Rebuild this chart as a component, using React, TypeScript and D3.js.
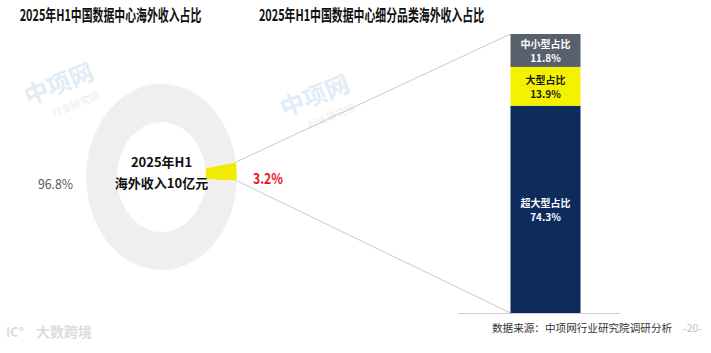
import React from 'react';
import * as d3 from 'd3';

// donut: share of overseas revenue
const donutValues = [3.2, 96.8];
const donutColors = ['#f2ea00', '#efefef'];
const donutLabels = ['3.2%', '96.8%'];

// stacked bar: breakdown by data-center size (bottom to top)
const barCategories = ['超大型占比', '大型占比', '中小型占比'];
const barValues = [74.3, 13.9, 11.8];
const barColors = ['#0d2b5c', '#f5f200', '#59606d'];
const barTextColors = ['#ffffff', '#1a1a1a', '#ffffff'];

const titleLeft = '2025年H1中国数据中心海外收入占比';
const titleRight = '2025年H1中国数据中心细分品类海外收入占比';
const centerLines = ['2025年H1', '海外收入10亿元'];
const sourceText = '数据来源：中项网行业研究院调研分析';
const watermarks = [
  [62, 92],
  [318, 104],
];

const FONT = '"Noto Sans CJK SC", "Noto Sans", sans-serif';

const App: React.FC = () => {
  const W = 711;
  const H = 353;

  // donut geometry (picture is squeezed horizontally)
  const cx = 161.5;
  const cy = 177;
  const sx = 0.81;
  const rOuter = 93;
  const rInner = 55;
  const start = (80.8 * Math.PI) / 180;

  const pie = d3
    .pie<number>()
    .sort(null)
    .startAngle(start)
    .endAngle(start + 2 * Math.PI);
  const arcs = pie(donutValues);
  const arc = d3.arc<d3.PieArcDatum<number>>().innerRadius(rInner).outerRadius(rOuter);

  const small = arcs[0];
  const pt = (a: number, r: number) => [cx + sx * r * Math.sin(a), cy - r * Math.cos(a)];
  const [tx, ty] = pt(small.startAngle, rOuter);
  const [bx, by] = pt(small.endAngle, rOuter);

  // stacked bar
  const barX = 510.5;
  const barW = 70;
  const y = d3.scaleLinear().domain([0, 100]).range([313, 34]);
  let acc = 0;
  const segs = barValues.map((v, i) => {
    const s = { key: barCategories[i], v, y0: acc, y1: acc + v, i };
    acc += v;
    return s;
  });

  return (
    <svg width={W} height={H} style={{ position: 'absolute', left: 0, top: 0, background: '#fff' }}>
      <rect width={W} height={H} fill="#ffffff" />

      {/* watermarks */}
      {watermarks.map(([wx, wy], i) => (
        <text key={i} x={wx} y={wy} transform={`rotate(-22 ${wx} ${wy})`} textAnchor="middle" fontFamily={FONT} opacity={0.35}>
          <tspan fontSize={24} fontWeight={700} fill="#a9cbea">中项网</tspan>
          <tspan x={wx + 8} dy={20} fontSize={10} fill="#c8c8c8">行业研究院</tspan>
        </text>
      ))}

      {/* titles (squeezed like the source image) */}
      <g fontFamily={FONT} fontWeight={700} fill="#111" fontSize={16}>
        <text transform="translate(110.5,21) scale(0.68,1)" textAnchor="middle">{titleLeft}</text>
        <text transform="translate(371.5,21) scale(0.68,1)" textAnchor="middle">{titleRight}</text>
      </g>

      {/* connector lines */}
      <line x1={tx} y1={ty} x2={barX} y2={y(100)} stroke="#c8c8c8" strokeWidth={1} />
      <line x1={bx} y1={by} x2={barX} y2={y(0)} stroke="#c8c8c8" strokeWidth={1} />

      {/* donut */}
      <g transform={`translate(${cx},${cy}) scale(${sx},1)`}>
        {arcs.map((a, i) => (
          <path key={i} d={arc(a) || ''} fill={donutColors[i]} />
        ))}
      </g>
      <text x={cx} y={167} fontFamily={FONT} textAnchor="middle" fontWeight={700} fill="#111" fontSize={13}>
        <tspan x={cx}>{centerLines[0]}</tspan>
        <tspan x={cx} dy={21}>{centerLines[1]}</tspan>
      </text>
      <text x={268} y={177} fontFamily={FONT} fontWeight={700} fontSize={14.5} fill="#e8141b" textAnchor="middle" dominantBaseline="central" textLength={30} lengthAdjust="spacingAndGlyphs">
        {donutLabels[0]}
      </text>
      <text x={55.5} y={183} fontFamily={FONT} fontSize={13} fill="#595959" textAnchor="middle" dominantBaseline="central" textLength={35} lengthAdjust="spacingAndGlyphs">
        {donutLabels[1]}
      </text>

      {/* stacked bar */}
      {segs.map((s) => (
        <rect key={s.key} x={barX} width={barW} y={y(s.y1)} height={y(s.y0) - y(s.y1)} fill={barColors[s.i]} />
      ))}
      {segs.map((s) => {
        const mid = (y(s.y0) + y(s.y1)) / 2;
        const lx = barX + barW / 2;
        return (
          <text key={s.key + 't'} x={lx} y={mid - 2.5} fontFamily={FONT} fontWeight={700} fontSize={10} fill={barTextColors[s.i]} textAnchor="middle">
            <tspan x={lx}>{s.key}</tspan>
            <tspan x={lx} dy={14.5}>{s.v.toFixed(1)}%</tspan>
          </text>
        );
      })}
      <line x1={458} x2={620} y1={313.5} y2={313.5} stroke="#d0d0d0" strokeWidth={1} />

      {/* footer */}
      <text x={492} y={327} fontFamily={FONT} fontSize={10.6} fill="#333" dominantBaseline="central">
        {sourceText}
      </text>
      <text x={683} y={327} fontFamily={FONT} fontSize={10.5} fill="#c0c0c0" dominantBaseline="central">-20-</text>
      <text x={36} y={331} fontFamily={FONT} fontSize={14} fill="#dcdcdc" dominantBaseline="central" fontWeight={700}>大数跨境</text>
      <text x={6} y={331} fontFamily={FONT} fontSize={13} fill="#dcdcdc" dominantBaseline="central" fontWeight={700}>IC°</text>
    </svg>
  );
};

export default App;
